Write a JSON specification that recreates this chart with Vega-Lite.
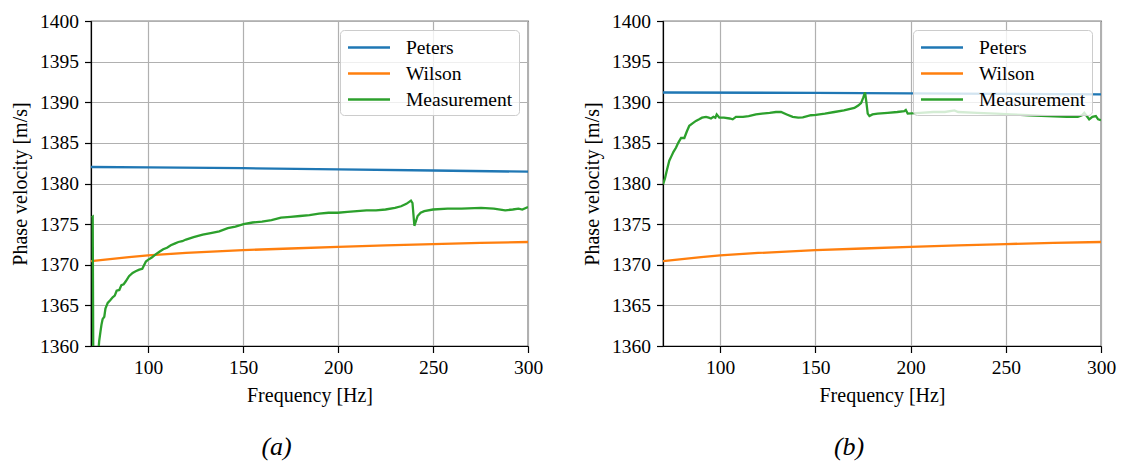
{
  "$schema": "https://vega.github.io/schema/vega-lite/v6.json",
  "padding": {"left": 9, "top": 10, "right": 0, "bottom": 0},
  "background": "white",
  "spacing": 135,
  "bounds": "flush",
  "datasets": {
    "a": [
      {"series": "Peters", "f": 70, "v": 1382.03},
      {"series": "Peters", "f": 100, "v": 1381.98},
      {"series": "Peters", "f": 150, "v": 1381.88},
      {"series": "Peters", "f": 200, "v": 1381.75},
      {"series": "Peters", "f": 250, "v": 1381.6},
      {"series": "Peters", "f": 300, "v": 1381.45},
      {"series": "Wilson", "f": 70, "v": 1370.45},
      {"series": "Wilson", "f": 80, "v": 1370.7},
      {"series": "Wilson", "f": 90, "v": 1370.95},
      {"series": "Wilson", "f": 100, "v": 1371.15},
      {"series": "Wilson", "f": 120, "v": 1371.45},
      {"series": "Wilson", "f": 150, "v": 1371.8},
      {"series": "Wilson", "f": 175, "v": 1372.0},
      {"series": "Wilson", "f": 200, "v": 1372.2},
      {"series": "Wilson", "f": 225, "v": 1372.38},
      {"series": "Wilson", "f": 250, "v": 1372.55},
      {"series": "Wilson", "f": 275, "v": 1372.68},
      {"series": "Wilson", "f": 300, "v": 1372.8},
      {"series": "Measurement", "f": 70.3, "v": 1375.8},
      {"series": "Measurement", "f": 70.9, "v": 1375.9},
      {"series": "Measurement", "f": 71.3, "v": 1352},
      {"series": "Measurement", "f": 72.0, "v": 1345},
      {"series": "Measurement", "f": 73.0, "v": 1348},
      {"series": "Measurement", "f": 73.8, "v": 1359.0},
      {"series": "Measurement", "f": 74.3, "v": 1360.6},
      {"series": "Measurement", "f": 75.0, "v": 1361.8},
      {"series": "Measurement", "f": 75.5, "v": 1362.6},
      {"series": "Measurement", "f": 76.1, "v": 1363.3},
      {"series": "Measurement", "f": 77.0, "v": 1363.6},
      {"series": "Measurement", "f": 77.6, "v": 1364.6},
      {"series": "Measurement", "f": 78.8, "v": 1365.3},
      {"series": "Measurement", "f": 80.0, "v": 1365.6},
      {"series": "Measurement", "f": 81.4, "v": 1366.0},
      {"series": "Measurement", "f": 82.5, "v": 1366.2},
      {"series": "Measurement", "f": 83.5, "v": 1366.8},
      {"series": "Measurement", "f": 84.9, "v": 1366.9},
      {"series": "Measurement", "f": 86.0, "v": 1367.5},
      {"series": "Measurement", "f": 87.2, "v": 1367.6},
      {"series": "Measurement", "f": 88.4, "v": 1368.0},
      {"series": "Measurement", "f": 90.0, "v": 1368.6},
      {"series": "Measurement", "f": 91.9, "v": 1369.0},
      {"series": "Measurement", "f": 93.5, "v": 1369.2},
      {"series": "Measurement", "f": 95.4, "v": 1369.4},
      {"series": "Measurement", "f": 97.0, "v": 1369.5},
      {"series": "Measurement", "f": 98.9, "v": 1370.4},
      {"series": "Measurement", "f": 100.0, "v": 1370.6},
      {"series": "Measurement", "f": 102.0, "v": 1370.9},
      {"series": "Measurement", "f": 104.2, "v": 1371.3},
      {"series": "Measurement", "f": 106.0, "v": 1371.6},
      {"series": "Measurement", "f": 108.0, "v": 1371.9},
      {"series": "Measurement", "f": 110.0, "v": 1372.1},
      {"series": "Measurement", "f": 112.0, "v": 1372.4},
      {"series": "Measurement", "f": 114.0, "v": 1372.6},
      {"series": "Measurement", "f": 116.0, "v": 1372.8},
      {"series": "Measurement", "f": 118.0, "v": 1372.9},
      {"series": "Measurement", "f": 120.0, "v": 1373.1},
      {"series": "Measurement", "f": 124.0, "v": 1373.4},
      {"series": "Measurement", "f": 128.8, "v": 1373.7},
      {"series": "Measurement", "f": 133.0, "v": 1373.9},
      {"series": "Measurement", "f": 137.5, "v": 1374.1},
      {"series": "Measurement", "f": 142.0, "v": 1374.5},
      {"series": "Measurement", "f": 146.0, "v": 1374.7},
      {"series": "Measurement", "f": 150.3, "v": 1375.0},
      {"series": "Measurement", "f": 155.0, "v": 1375.2},
      {"series": "Measurement", "f": 160.0, "v": 1375.3},
      {"series": "Measurement", "f": 165.0, "v": 1375.5},
      {"series": "Measurement", "f": 170.0, "v": 1375.8},
      {"series": "Measurement", "f": 175.0, "v": 1375.9},
      {"series": "Measurement", "f": 180.0, "v": 1376.0},
      {"series": "Measurement", "f": 185.0, "v": 1376.1},
      {"series": "Measurement", "f": 190.0, "v": 1376.3},
      {"series": "Measurement", "f": 195.0, "v": 1376.4},
      {"series": "Measurement", "f": 200.0, "v": 1376.4},
      {"series": "Measurement", "f": 205.0, "v": 1376.5},
      {"series": "Measurement", "f": 210.0, "v": 1376.6},
      {"series": "Measurement", "f": 215.0, "v": 1376.7},
      {"series": "Measurement", "f": 220.0, "v": 1376.7},
      {"series": "Measurement", "f": 225.0, "v": 1376.8},
      {"series": "Measurement", "f": 230.0, "v": 1377.0},
      {"series": "Measurement", "f": 233.2, "v": 1377.2},
      {"series": "Measurement", "f": 236.0, "v": 1377.5},
      {"series": "Measurement", "f": 238.4, "v": 1377.9},
      {"series": "Measurement", "f": 239.2, "v": 1377.6},
      {"series": "Measurement", "f": 240.2, "v": 1374.8},
      {"series": "Measurement", "f": 240.8, "v": 1375.2},
      {"series": "Measurement", "f": 241.9, "v": 1376.0},
      {"series": "Measurement", "f": 243.5, "v": 1376.4},
      {"series": "Measurement", "f": 245.4, "v": 1376.6},
      {"series": "Measurement", "f": 250.0, "v": 1376.8},
      {"series": "Measurement", "f": 257.7, "v": 1376.9},
      {"series": "Measurement", "f": 265.0, "v": 1376.9},
      {"series": "Measurement", "f": 275.3, "v": 1377.0},
      {"series": "Measurement", "f": 282.0, "v": 1376.9},
      {"series": "Measurement", "f": 288.0, "v": 1376.7},
      {"series": "Measurement", "f": 292.0, "v": 1376.8},
      {"series": "Measurement", "f": 295.0, "v": 1376.9},
      {"series": "Measurement", "f": 297.0, "v": 1376.8},
      {"series": "Measurement", "f": 300.0, "v": 1377.1}
    ],
    "b": [
      {"series": "Peters", "f": 70, "v": 1391.2},
      {"series": "Peters", "f": 150, "v": 1391.15},
      {"series": "Peters", "f": 200, "v": 1391.1},
      {"series": "Peters", "f": 250, "v": 1391.04},
      {"series": "Peters", "f": 300, "v": 1390.98},
      {"series": "Wilson", "f": 70, "v": 1370.45},
      {"series": "Wilson", "f": 80, "v": 1370.7},
      {"series": "Wilson", "f": 90, "v": 1370.95},
      {"series": "Wilson", "f": 100, "v": 1371.15},
      {"series": "Wilson", "f": 120, "v": 1371.45},
      {"series": "Wilson", "f": 150, "v": 1371.8},
      {"series": "Wilson", "f": 175, "v": 1372.0},
      {"series": "Wilson", "f": 200, "v": 1372.2},
      {"series": "Wilson", "f": 225, "v": 1372.38},
      {"series": "Wilson", "f": 250, "v": 1372.55},
      {"series": "Wilson", "f": 275, "v": 1372.68},
      {"series": "Wilson", "f": 300, "v": 1372.8},
      {"series": "Measurement", "f": 70.0, "v": 1379.9},
      {"series": "Measurement", "f": 71.0, "v": 1380.6},
      {"series": "Measurement", "f": 72.0, "v": 1381.6},
      {"series": "Measurement", "f": 73.3, "v": 1382.8},
      {"series": "Measurement", "f": 74.5, "v": 1383.4},
      {"series": "Measurement", "f": 75.5, "v": 1383.9},
      {"series": "Measurement", "f": 76.8, "v": 1384.4},
      {"series": "Measurement", "f": 78.0, "v": 1385.0},
      {"series": "Measurement", "f": 79.5, "v": 1385.6},
      {"series": "Measurement", "f": 81.2, "v": 1385.6},
      {"series": "Measurement", "f": 82.5, "v": 1386.4},
      {"series": "Measurement", "f": 83.8, "v": 1387.1},
      {"series": "Measurement", "f": 85.5, "v": 1387.4},
      {"series": "Measurement", "f": 87.3, "v": 1387.7},
      {"series": "Measurement", "f": 89.0, "v": 1387.9},
      {"series": "Measurement", "f": 90.5, "v": 1388.1},
      {"series": "Measurement", "f": 92.6, "v": 1388.2},
      {"series": "Measurement", "f": 94.0, "v": 1388.1},
      {"series": "Measurement", "f": 95.2, "v": 1388.0},
      {"series": "Measurement", "f": 96.5, "v": 1388.2},
      {"series": "Measurement", "f": 97.5, "v": 1388.1},
      {"series": "Measurement", "f": 98.2, "v": 1388.5},
      {"series": "Measurement", "f": 99.6, "v": 1388.1},
      {"series": "Measurement", "f": 102.0, "v": 1388.1},
      {"series": "Measurement", "f": 105.0, "v": 1388.0},
      {"series": "Measurement", "f": 106.6, "v": 1387.9},
      {"series": "Measurement", "f": 108.3, "v": 1388.2},
      {"series": "Measurement", "f": 112.0, "v": 1388.2},
      {"series": "Measurement", "f": 115.0, "v": 1388.3},
      {"series": "Measurement", "f": 118.8, "v": 1388.5},
      {"series": "Measurement", "f": 122.0, "v": 1388.6},
      {"series": "Measurement", "f": 126.0, "v": 1388.7},
      {"series": "Measurement", "f": 129.3, "v": 1388.8},
      {"series": "Measurement", "f": 132.0, "v": 1388.8},
      {"series": "Measurement", "f": 135.0, "v": 1388.5},
      {"series": "Measurement", "f": 138.1, "v": 1388.2},
      {"series": "Measurement", "f": 141.0, "v": 1388.1},
      {"series": "Measurement", "f": 143.4, "v": 1388.15},
      {"series": "Measurement", "f": 147.7, "v": 1388.4},
      {"series": "Measurement", "f": 150.3, "v": 1388.45},
      {"series": "Measurement", "f": 155.0, "v": 1388.6},
      {"series": "Measurement", "f": 160.0, "v": 1388.8},
      {"series": "Measurement", "f": 165.0, "v": 1389.0},
      {"series": "Measurement", "f": 170.5, "v": 1389.3},
      {"series": "Measurement", "f": 172.5, "v": 1389.6},
      {"series": "Measurement", "f": 174.0, "v": 1389.9},
      {"series": "Measurement", "f": 175.2, "v": 1390.6},
      {"series": "Measurement", "f": 176.1, "v": 1391.2},
      {"series": "Measurement", "f": 176.8, "v": 1390.0},
      {"series": "Measurement", "f": 177.5, "v": 1388.6},
      {"series": "Measurement", "f": 178.4, "v": 1388.3},
      {"series": "Measurement", "f": 180.0, "v": 1388.5},
      {"series": "Measurement", "f": 182.7, "v": 1388.6},
      {"series": "Measurement", "f": 188.0, "v": 1388.7},
      {"series": "Measurement", "f": 193.0, "v": 1388.8},
      {"series": "Measurement", "f": 196.7, "v": 1388.9},
      {"series": "Measurement", "f": 197.5, "v": 1389.05},
      {"series": "Measurement", "f": 198.5, "v": 1388.6},
      {"series": "Measurement", "f": 205.0, "v": 1388.7},
      {"series": "Measurement", "f": 212.0, "v": 1388.8},
      {"series": "Measurement", "f": 218.0, "v": 1388.8},
      {"series": "Measurement", "f": 223.0, "v": 1389.0},
      {"series": "Measurement", "f": 225.0, "v": 1388.8},
      {"series": "Measurement", "f": 235.0, "v": 1388.7},
      {"series": "Measurement", "f": 245.0, "v": 1388.6},
      {"series": "Measurement", "f": 252.7, "v": 1388.5},
      {"series": "Measurement", "f": 262.0, "v": 1388.4},
      {"series": "Measurement", "f": 272.0, "v": 1388.3},
      {"series": "Measurement", "f": 282.0, "v": 1388.2},
      {"series": "Measurement", "f": 287.8, "v": 1388.2},
      {"series": "Measurement", "f": 290.0, "v": 1388.4},
      {"series": "Measurement", "f": 291.2, "v": 1388.7},
      {"series": "Measurement", "f": 292.5, "v": 1388.3},
      {"series": "Measurement", "f": 293.8, "v": 1387.9},
      {"series": "Measurement", "f": 295.5, "v": 1388.2},
      {"series": "Measurement", "f": 297.3, "v": 1388.3},
      {"series": "Measurement", "f": 298.5, "v": 1387.9},
      {"series": "Measurement", "f": 300.0, "v": 1387.8}
    ]
  },
  "config": {
    "font": "Liberation Serif",
    "view": {"stroke": "black", "strokeWidth": 1.2},
    "axis": {
      "labelFont": "Liberation Serif",
      "titleFont": "Liberation Serif",
      "labelFontSize": 19.5,
      "titleFontSize": 20,
      "titleFontWeight": "normal",
      "labelColor": "black",
      "titleColor": "black",
      "domainColor": "black",
      "domainWidth": 1.2,
      "tickColor": "black",
      "tickWidth": 1.2,
      "tickSize": 6.5,
      "labelPadding": 6,
      "gridColor": "#b0b0b0",
      "gridWidth": 1.2,
      "gridOpacity": 1,
      "labelFlush": false,
      "labelOverlap": false
    },
    "legend": {
      "orient": "top-right",
      "offset": 9,
      "fillColor": "rgba(255,255,255,0.8)",
      "strokeColor": "#cccccc",
      "cornerRadius": 4,
      "padding": 6,
      "symbolType": "M-0.95,0H3.25",
      "symbolSize": 400,
      "symbolStrokeWidth": 2.3,
      "labelFont": "Liberation Serif",
      "labelFontSize": 19.5,
      "labelColor": "black",
      "labelOffset": 37,
      "rowPadding": 5,
      "labelLimit": 300
    },
    "title": {
      "font": "Liberation Serif",
      "fontSize": 26,
      "fontWeight": "normal",
      "fontStyle": "italic",
      "color": "black"
    }
  },
  "resolve": {"scale": {"color": "independent"}, "legend": {"color": "independent"}},
  "hconcat": [
    {
      "data": {"name": "a"},
      "width": 437,
      "height": 325,
      "title": {"text": "(a)", "orient": "bottom", "anchor": "middle", "frame": "bounds", "offset": 29},
      "mark": {"type": "line", "strokeWidth": 2.3, "clip": true},
      "encoding": {
        "x": {"field": "f", "type": "quantitative", "title": "Frequency [Hz]",
              "scale": {"domain": [70, 300], "nice": false, "zero": false},
              "axis": {"values": [100, 150, 200, 250, 300], "titlePadding": 8}},
        "y": {"field": "v", "type": "quantitative", "title": "Phase velocity [m/s]",
              "scale": {"domain": [1360, 1400], "nice": false, "zero": false},
              "axis": {"values": [1360, 1365, 1370, 1375, 1380, 1385, 1390, 1395, 1400], "format": "d", "titlePadding": 9}},
        "color": {"field": "series", "type": "nominal", "title": null,
                  "scale": {"domain": ["Peters", "Wilson", "Measurement"], "range": ["#1f77b4", "#ff7f0e", "#2ca02c"]}},
        "order": {"field": "f", "type": "quantitative"}
      }
    },
    {
      "data": {"name": "b"},
      "width": 438,
      "height": 325,
      "title": {"text": "(b)", "orient": "bottom", "anchor": "middle", "frame": "bounds", "offset": 29},
      "mark": {"type": "line", "strokeWidth": 2.3, "clip": true},
      "encoding": {
        "x": {"field": "f", "type": "quantitative", "title": "Frequency [Hz]",
              "scale": {"domain": [70, 300], "nice": false, "zero": false},
              "axis": {"values": [100, 150, 200, 250, 300], "titlePadding": 8}},
        "y": {"field": "v", "type": "quantitative", "title": "Phase velocity [m/s]",
              "scale": {"domain": [1360, 1400], "nice": false, "zero": false},
              "axis": {"values": [1360, 1365, 1370, 1375, 1380, 1385, 1390, 1395, 1400], "format": "d", "titlePadding": 9}},
        "color": {"field": "series", "type": "nominal", "title": null,
                  "scale": {"domain": ["Peters", "Wilson", "Measurement"], "range": ["#1f77b4", "#ff7f0e", "#2ca02c"]}},
        "order": {"field": "f", "type": "quantitative"}
      }
    }
  ]
}
